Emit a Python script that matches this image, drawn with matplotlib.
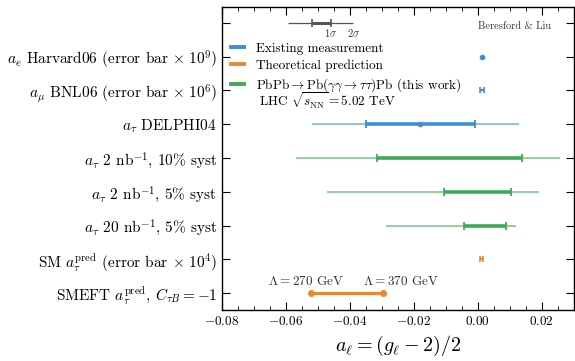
import matplotlib
matplotlib.use('Agg')
import matplotlib.pyplot as plt
from matplotlib.lines import Line2D
from matplotlib.ticker import MultipleLocator

plt.rcParams['font.family'] = 'serif'
plt.rcParams['font.serif'] = ['cmr10']
plt.rcParams['mathtext.fontset'] = 'cm'
plt.rcParams['axes.formatter.use_mathtext'] = True

blue = '#3d8ed3'
green = '#3fab57'
orange = '#ec8630'

labels = [
    '',
    r'$a_e$ Harvard06 (error bar $\times\ 10^9$)',
    r'$a_\mu$ BNL06 (error bar $\times\ 10^6$)',
    r'$a_\tau$ DELPHI04',
    r'$a_\tau$ 2 nb$^{-1}$, 10% syst',
    r'$a_\tau$ 2 nb$^{-1}$, 5% syst',
    r'$a_\tau$ 20 nb$^{-1}$, 5% syst',
    r'SM $a_\tau^{\rm pred}$ (error bar $\times\ 10^4$)',
    r'SMEFT $a_\tau^{\rm pred}$, $C_{\tau B} = -1$',
]

# existing measurements
a_e = 0.00115965
a_mu, a_mu_err = 0.00116592, 0.00063
delphi_c = -0.018
delphi_1s = (-0.035, -0.0008)
delphi_2s = (-0.052, 0.013)

# projections (this work): rows, 1 sigma and 2 sigma intervals
proj_rows = [4, 5, 6]
proj_1s = [(-0.0315, 0.0137), (-0.0107, 0.0105), (-0.0044, 0.0087)]
proj_2s = [(-0.0568, 0.0256), (-0.0471, 0.0190), (-0.0287, 0.0118)]

# predictions
sm_pred, sm_err = 0.00117721, 0.0005
smeft = (-0.0523, -0.0297)
smeft_labels = [r'$\Lambda = 270$ GeV', r'$\Lambda = 370$ GeV']
smeft_label_x = [-0.0538, -0.0241]

# sigma key
key_2s = (-0.0593, -0.039)
key_1s = (-0.052, -0.046)

fig, ax = plt.subplots(figsize=(5.75, 3.61), dpi=100)
fig.subplots_adjust(left=0.386, right=0.998, top=0.981, bottom=0.141)

gray = '#555555'
ax.hlines(0, key_2s[0], key_2s[1], color=gray, lw=0.9)
ax.errorbar((key_1s[0] + key_1s[1]) / 2, 0, xerr=(key_1s[1] - key_1s[0]) / 2,
            fmt='none', ecolor=gray, elinewidth=2.2, capsize=3, capthick=1.2)
ax.text(key_1s[1], 0.31, r'1$\sigma$', fontsize=7.5, ha='center', va='center', color='#333333')
ax.text(key_2s[1], 0.31, r'2$\sigma$', fontsize=7.5, ha='center', va='center', color='#333333')

ax.plot(a_e, 1, 'o', color=blue, ms=3)
ax.errorbar(a_mu, 2, xerr=a_mu_err, fmt='none', ecolor=blue, elinewidth=1.5, capsize=2, capthick=1.2)

ax.hlines(3, delphi_2s[0], delphi_2s[1], color=blue, lw=1.3, alpha=0.6)
ax.errorbar(delphi_c, 3, xerr=[[delphi_c - delphi_1s[0]], [delphi_1s[1] - delphi_c]],
            fmt='o', ms=3, color=blue, elinewidth=2.6, capsize=3, capthick=1.3)

for r, s1, s2 in zip(proj_rows, proj_1s, proj_2s):
    ax.hlines(r, s2[0], s2[1], color=green, lw=1.3, alpha=0.6)
    ax.errorbar((s1[0] + s1[1]) / 2, r, xerr=(s1[1] - s1[0]) / 2, fmt='none',
                ecolor=green, elinewidth=2.6, capsize=3, capthick=1.3)

ax.errorbar(sm_pred, 7, xerr=sm_err, fmt='none', ecolor=orange, elinewidth=1.5, capsize=2, capthick=1.2)

ax.plot(smeft, [8, 8], '-o', color=orange, lw=2.2, ms=4)
for xv, t in zip(smeft_label_x, smeft_labels):
    ax.text(xv, 7.65, t, fontsize=9.5, ha='center', va='center', color='#333333')

ax.text(0.0, 0.1, 'Beresford & Liu', fontsize=7.5, ha='left', va='center', color='#333333')

handles = [Line2D([], [], color=blue, lw=2.8),
           Line2D([], [], color=orange, lw=2.8),
           Line2D([], [], color=green, lw=2.8)]
names = ['Existing measurement', 'Theoretical prediction',
         r'PbPb$\rightarrow$Pb($\gamma\gamma\rightarrow\tau\tau$)Pb (this work)']
ax.legend(handles, names, loc='upper left', bbox_to_anchor=(0.0, 0.913), frameon=False,
          fontsize=9.5, handlelength=1.0, handletextpad=0.85, labelspacing=0.34, borderaxespad=0.3)
ax.text(0.106, 0.671, r'LHC $\sqrt{s_{\rm NN}} = 5.02$ TeV', fontsize=9.5,
        ha='left', va='baseline', transform=ax.transAxes)

ax.set_xlim(-0.08, 0.03)
ax.set_ylim(8.5, -0.47)
ax.set_yticks(range(len(labels)))
ax.set_yticklabels(labels, fontsize=11)
ax.xaxis.set_major_locator(MultipleLocator(0.02))
ax.xaxis.set_minor_locator(MultipleLocator(0.005))
ax.tick_params(axis='x', which='both', direction='in', top=True, labelsize=9.5)
ax.tick_params(axis='x', which='major', length=6)
ax.tick_params(axis='x', which='minor', length=3)
ax.tick_params(axis='y', direction='in', right=True, length=6)
ax.set_xlabel(r'$a_\ell = (g_\ell - 2)/2$', fontsize=14.5)
for s in ax.spines.values():
    s.set_linewidth(1.0)

fig.savefig('out.png', dpi=100)
